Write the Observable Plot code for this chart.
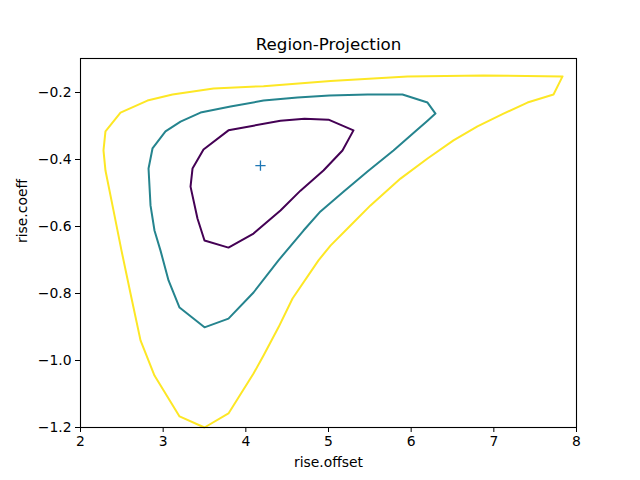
<!DOCTYPE html>
<html>
<head>
<meta charset="utf-8">
<script src="https://cdn.jsdelivr.net/npm/d3@7"></script>
<script src="https://cdn.jsdelivr.net/npm/@observablehq/plot@0.6"></script>
<style>
  body { margin: 0; background: #fff; }
</style>
</head>
<body>
<div id="chart"></div>
<script>
// Contour levels (viridis colors): inner, middle, outer
const levelColors = ["#440154", "#25848e", "#fde725"];

const innerX = [3.488, 3.790, 4.093, 4.419, 4.710, 5.000, 5.302, 5.169, 4.939, 4.661, 4.419, 4.093, 3.790, 3.500, 3.415, 3.331, 3.355];
const innerY = [-0.370, -0.313, -0.299, -0.284, -0.278, -0.281, -0.313, -0.373, -0.433, -0.493, -0.552, -0.621, -0.663, -0.642, -0.576, -0.481, -0.427];

const middleX = [2.871, 3.028, 3.210, 3.452, 3.815, 4.214, 4.625, 5.012, 5.472, 5.895, 6.198, 6.294, 6.198, 6.052, 5.786, 5.472, 5.181, 4.903, 4.698, 4.395, 4.093, 3.790, 3.500, 3.198, 3.065, 2.968, 2.895, 2.847, 2.823];
const middleY = [-0.367, -0.316, -0.287, -0.260, -0.242, -0.224, -0.215, -0.209, -0.206, -0.206, -0.230, -0.263, -0.284, -0.316, -0.373, -0.436, -0.496, -0.555, -0.612, -0.701, -0.797, -0.875, -0.901, -0.842, -0.761, -0.672, -0.612, -0.537, -0.427];

const outerX = [2.278, 2.302, 2.399, 2.496, 2.605, 2.726, 2.895, 3.198, 3.500, 3.790, 4.093, 4.214, 4.395, 4.565, 4.879, 5.024, 5.266, 5.508, 5.871, 6.198, 6.512, 6.802, 7.117, 7.407, 7.722, 7.831, 6.875, 5.956, 5.024, 4.214, 3.609, 3.113, 2.810, 2.484, 2.302];
const outerY = [-0.373, -0.433, -0.552, -0.672, -0.800, -0.940, -1.045, -1.167, -1.200, -1.158, -1.039, -0.985, -0.901, -0.815, -0.701, -0.657, -0.597, -0.537, -0.457, -0.397, -0.343, -0.301, -0.263, -0.230, -0.206, -0.152, -0.149, -0.152, -0.166, -0.181, -0.188, -0.206, -0.224, -0.260, -0.316];

const centerX = [4.177];
const centerY = [-0.418];

const xTicks = [2, 3, 4, 5, 6, 7, 8];
const yTicks = [-1.2, -1.0, -0.8, -0.6, -0.4, -0.2];

function closedRing(xs, ys) {
  const pts = xs.map((x, i) => ({x, y: ys[i]}));
  pts.push({...pts[0]});
  return pts;
}

const rings = [
  closedRing(innerX, innerY),
  closedRing(middleX, middleY),
  closedRing(outerX, outerY)
];
const center = centerX.map((x, i) => ({x, y: centerY[i]}));

const chart = Plot.plot({
  width: 640,
  height: 480,
  marginLeft: 80,
  marginRight: 64,
  marginTop: 58,
  marginBottom: 53,
  style: {fontFamily: "DejaVu Sans", fontSize: "13.9px", color: "#000", background: "#fff"},
  x: {domain: [2, 8], ticks: xTicks, tickFormat: d3.format("d"), label: null, tickSize: 5, tickPadding: 4},
  y: {domain: [-1.2, -0.0985], ticks: yTicks, tickFormat: d3.format(".1f"), label: null, tickSize: 5, tickPadding: 4},
  marks: [
    ...rings.map((r, i) => Plot.line(r, {x: "x", y: "y", stroke: levelColors[i], strokeWidth: 2, curve: "linear"})),
    Plot.dot(center, {x: "x", y: "y", symbol: "plus", stroke: "#1f77b4", r: 3.4, strokeWidth: 1.3}),
    Plot.frame({stroke: "#000", strokeWidth: 1.1}),
    Plot.text(["Region-Projection"], {frameAnchor: "top", dy: -14, lineAnchor: "middle", fontSize: 16.7, fill: "#000"}),
    Plot.text(["rise.offset"], {frameAnchor: "bottom", dy: 35, lineAnchor: "middle", fontSize: 13.9, fill: "#000"}),
    Plot.text(["rise.coeff"], {frameAnchor: "left", dx: -58, rotate: -90, lineAnchor: "middle", fontSize: 13.9, fill: "#000"})
  ]
});
document.getElementById("chart").appendChild(chart);
</script>
</body>
</html>
